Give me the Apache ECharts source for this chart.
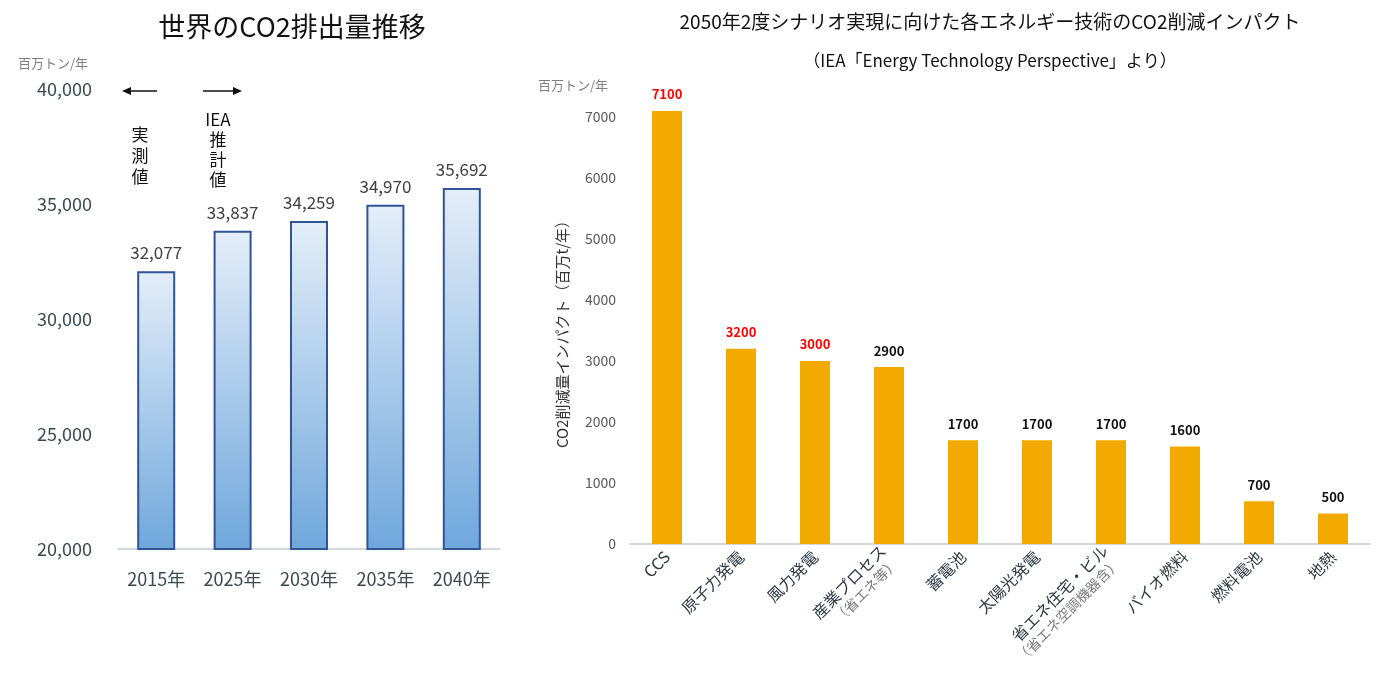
<!DOCTYPE html>
<html>
<head>
<meta charset="utf-8">
<script src="https://cdn.jsdelivr.net/npm/echarts@6/dist/echarts.min.js"></script>
<style>
html,body{margin:0;padding:0;background:#fff;}
#c{width:1380px;height:674px;}
</style>
</head>
<body>
<div id="c"></div>
<script>
// ---- Data ----
const leftYears = ['2015年', '2025年', '2030年', '2035年', '2040年'];
const leftValues = [32077, 33837, 34259, 34970, 35692];

const techCategories = ['CCS', '原子力発電', '風力発電', '産業プロセス\n（省エネ等）', '蓄電池', '太陽光発電',
  '省エネ住宅・ビル\n（省エネ空調機器含）', 'バイオ燃料', '燃料電池', '地熱'];
const techValues = [7100, 3200, 3000, 2900, 1700, 1700, 1700, 1600, 700, 500];

const FONT = '"Noto Sans CJK JP", "Noto Sans", sans-serif';
const chart = echarts.init(document.getElementById('c'), null, {renderer: 'canvas'});

function fmtComma(v) { return String(v).replace(/\B(?=(\d{3})+(?!\d))/g, ','); }

const option = {
  backgroundColor: '#fff',
  animation: false,
  textStyle: {fontFamily: FONT},
  title: [
    {text: '世界のCO2排出量推移', left: 287, top: 8, textAlign: 'center',
     textStyle: {fontSize: 27, fontWeight: 'normal', color: '#111', fontFamily: FONT}},
    {text: '2050年2度シナリオ実現に向けた各エネルギー技術のCO2削減インパクト', left: 985, top: 7, textAlign: 'center',
     textStyle: {fontSize: 19, fontWeight: 'normal', color: '#111', fontFamily: FONT}},
    {text: '（IEA「Energy Technology Perspective」より）', left: 985, top: 47, textAlign: 'center',
     textStyle: {fontSize: 17, fontWeight: 'normal', color: '#111', fontFamily: FONT}}
  ],
  grid: [
    {left: 118, right: 880, top: 89, bottom: 125},
    {left: 630, right: 10, top: 117, bottom: 130}
  ],
  xAxis: [
    {type: 'category', gridIndex: 0, data: leftYears,
     axisLine: {lineStyle: {color: '#C8CCCE', width: 1.5}}, axisTick: {show: false},
     axisLabel: {fontSize: 18, color: '#3a4a50', margin: 21, fontFamily: FONT}},
    {type: 'category', gridIndex: 1, data: techCategories,
     axisLine: {lineStyle: {color: '#C8CCCE', width: 1.5}}, axisTick: {show: false},
     axisLabel: {interval: 0, rotate: 45, margin: 10, fontSize: 16, color: '#2f3b45', fontFamily: FONT,
       lineHeight: 19,
       formatter: function (v) {
         const p = v.split('\n');
         return p.length > 1 ? p[0] + '\n{s|' + p[1] + '}' : p[0];
       },
       rich: {s: {fontSize: 14, color: '#7a7a7a', fontFamily: FONT, lineHeight: 17}}}}
  ],
  yAxis: [
    {type: 'value', gridIndex: 0, min: 20000, max: 40000, interval: 5000,
     axisLine: {show: false}, axisTick: {show: false}, splitLine: {show: false},
     axisLabel: {fontSize: 18, color: '#3a4a50', margin: 26, formatter: fmtComma, fontFamily: FONT}},
    {type: 'value', gridIndex: 1, min: 0, max: 7000, interval: 1000,
     name: 'CO2削減量インパクト（百万t/年）', nameLocation: 'middle', nameRotate: 90, nameGap: 60,
     nameTextStyle: {fontSize: 15, color: '#333', fontFamily: FONT},
     axisLine: {show: false}, axisTick: {show: false}, splitLine: {show: false},
     axisLabel: {fontSize: 14, color: '#595959', margin: 14, fontFamily: FONT,
       formatter: function (v) { return String(v); }}}
  ],
  series: [
    {type: 'bar', xAxisIndex: 0, yAxisIndex: 0, data: leftValues, barWidth: 38,
     itemStyle: {
       color: new echarts.graphic.LinearGradient(0, 0, 0, 1, [
         {offset: 0, color: '#E4EEF9'}, {offset: 1, color: '#6FA7DC'}]),
       borderColor: '#2F5597', borderWidth: 2
     },
     label: {show: true, position: 'top', distance: 10, fontSize: 17, color: '#404040',
       formatter: function (p) { return fmtComma(p.value); }, fontFamily: FONT}},
    {type: 'bar', xAxisIndex: 1, yAxisIndex: 1, data: techValues, barWidth: 30, clip: false,
     itemStyle: {color: '#F2AA00'},
     label: {show: true, position: 'top', distance: 10,
       formatter: function (p) { return p.dataIndex < 3 ? '{r|' + p.value + '}' : '{k|' + p.value + '}'; },
       rich: {
         r: {fontSize: 13, fontWeight: 'bold', color: '#FF0000', fontFamily: FONT},
         k: {fontSize: 13, fontWeight: 'bold', color: '#111', fontFamily: FONT}
       }}}
  ],
  graphic: [
    {type: 'text', left: 18, top: 57, style: {text: '百万トン/年', fontSize: 13, fill: '#7f7f7f', fontFamily: FONT}},
    {type: 'text', left: 538, top: 79, style: {text: '百万トン/年', fontSize: 13, fill: '#7f7f7f', fontFamily: FONT}},
    // left arrow
    {type: 'line', shape: {x1: 130, y1: 91, x2: 157, y2: 91}, style: {stroke: '#111', lineWidth: 1.5}},
    {type: 'polygon', shape: {points: [[122, 91], [131, 87], [131, 95]]}, style: {fill: '#111'}},
    // right arrow
    {type: 'line', shape: {x1: 203, y1: 91, x2: 234, y2: 91}, style: {stroke: '#111', lineWidth: 1.5}},
    {type: 'polygon', shape: {points: [[242, 91], [233, 87], [233, 95]]}, style: {fill: '#111'}},
    {type: 'text', x: 140, y: 124, style: {text: '実\n測\n値', fontSize: 17, lineHeight: 21, align: 'center', fill: '#111', fontFamily: FONT}},
    {type: 'text', x: 218, y: 110, style: {text: 'IEA\n推\n計\n値', fontSize: 17, lineHeight: 20, align: 'center', fill: '#111', fontFamily: FONT}}
  ]
};
chart.setOption(option);
</script>
</body>
</html>
